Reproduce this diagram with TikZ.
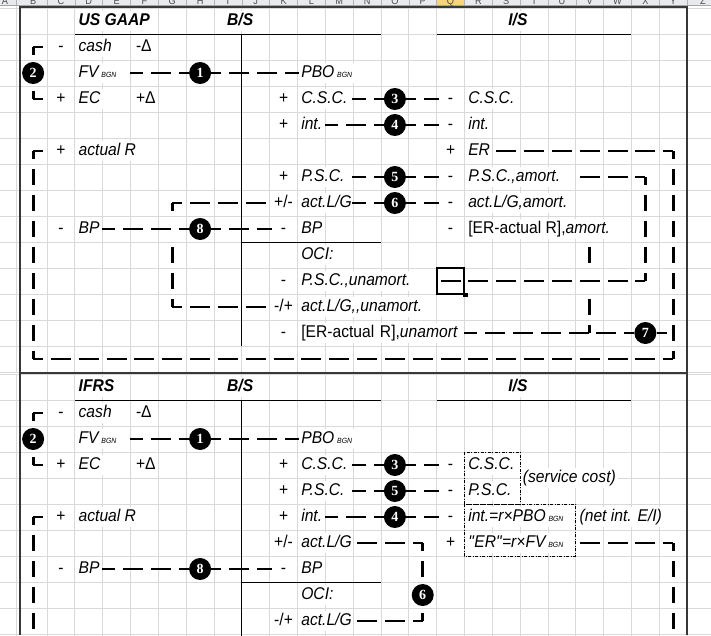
\documentclass[tikz,border=0pt]{standalone}
\usepackage{fontspec}
\setmainfont{Liberation Sans}[FakeStretch=0.92]
\newfontfamily\numfont{Liberation Serif}
\pgfdeclarelayer{back}
\pgfsetlayers{back,main}
\definecolor{gridgray}{HTML}{D9D9D9}
\definecolor{framegray}{HTML}{383838}
\definecolor{headgray}{HTML}{E8EAED}
\definecolor{headsel}{HTML}{F6D57E}
\newcommand{\bgn}{\,{\fontsize{7.5}{8}\selectfont BGN}}

\begin{document}
\begin{tikzpicture}[
    gridln/.style={draw=gridgray, line width=0.8pt},
    frame/.style={draw=framegray, line width=2pt},
    rule/.style={draw=black, line width=0.9pt},
    cell/.style={font=\fontsize{17}{19}\selectfont, inner ysep=2pt,
                 inner xsep=2.5pt, text height=12.2pt, text depth=3.6pt},
    txt/.style={cell, font=\fontsize{17}{19}\selectfont\itshape,
                anchor=west, fill=white},
    val/.style={cell, anchor=west, fill=white},
    hdr/.style={cell, font=\fontsize{17}{19}\selectfont\bfseries\itshape,
                fill=white},
    sgn/.style={cell, fill=white, inner xsep=1pt, minimum width=22pt},
    span/.code={\pgfmathsetlengthmacro\spanw{#1*27.83pt-7.2pt}%
                \tikzset{text width=\spanw, align=left}},
    num/.style={circle, fill=black, text=white, inner sep=0pt,
                minimum size=22pt,
                font=\numfont\bfseries\fontsize{14}{14}\selectfont},
    hl/.style={line width=2.8pt, dash pattern=on 20pt off 7.83pt,
               dash phase=10pt},
    vl/.style={line width=2.8pt, dash pattern=on 16pt off 10pt,
               dash phase=8pt},
    vlgap/.style={line width=2.8pt,
               dash pattern=on 8pt off 10pt on 16pt off 36pt on 16pt off 10pt},
    vlgapg/.style={line width=2.8pt,
               dash pattern=on 8pt off 10pt on 16pt off 10pt on 16pt off 36pt on 8pt off 10pt},
    dotbox/.style={draw, line width=0.8pt,
                   dash pattern=on 3pt off 1.5pt on 1pt off 1.5pt},
    selcell/.style={draw, line width=2pt, minimum width=27.83pt,
                    minimum height=26pt, inner sep=0pt},
    colhd/.style={font=\fontsize{10}{10}\selectfont, text=black!70,
                  anchor=base, inner sep=0pt}
]
\useasboundingbox (0pt,0pt) rectangle (711pt,-635pt);

% column heading strip
\fill[headgray] (0pt,0pt) rectangle (711pt,-5.5pt);
\fill[headsel] (436.6pt,0pt) rectangle (464.5pt,-5.5pt);
\foreach \c in {1,...,24}
  \draw[black!30, line width=0.6pt] ({19.2pt+\c*27.83pt},0pt) -- ++(0pt,-5.5pt);
\draw[black!30, line width=0.6pt] (16pt,0pt) -- (16pt,-5.5pt);
\draw[black!35, line width=0.6pt] (0pt,-5.5pt) -- (711pt,-5.5pt);
\node[colhd] (colA) at (5pt,-4.3pt) {A};
\foreach \l [count=\i from 0] in {B,C,D,E,F,G,H,I,J,K,L,M,N,O,P,Q,R,S,T,U,V,W,X,Y}
  \node[colhd] (col\l) at ({19.2pt+(\i+0.5)*27.83pt},-4.3pt) {\l};
\node[colhd] (colZ) at (703pt,-4.3pt) {Z};

% ---------------- US GAAP ----------------
\begin{scope}[shift={(19.2pt,-8pt)}, x=27.83pt, y=-26pt]
\begin{pgfonlayer}{back}
  \foreach \k in {0,...,14} \draw[gridln] (-1,\k) -- (26,\k);
  \foreach \c in {1,...,24} \draw[gridln] (\c,-0.3) -- (\c,14);
  \draw[gridln] (-0.115,-0.3) -- (-0.115,14);
\end{pgfonlayer}

\node[hdr, anchor=west] (ush) at (2.04,0.5) {US GAAP};
\node[hdr] (usbs) at (7.94,0.5) {B/S};
\node[hdr] (usis) at (17.92,0.5) {I/S};
\draw[rule] (2,1) -- (13,1);
\draw[rule] (15,1) -- (22,1);
\draw[rule] (8,1) -- (8,13);
\draw[rule] (8,9) -- (13,9);

% assets side
\node[sgn] (um1) at (1.5,1.5) {-};
\node[txt] (ucash) at (2.04,1.5) {cash};
\node[val] (ud1) at (4.1,1.5) {-Δ};
\node[num] (u2) at (0.5,2.5) {2};
\node[txt, span=2] (ufv) at (2.04,2.5) {FV\bgn};
\node[num] (u1) at (6.5,2.5) {1};
\node[sgn] (up3) at (1.5,3.5) {+};
\node[txt] (uec) at (2.04,3.5) {EC};
\node[val] (ud3) at (4.1,3.5) {+Δ};
\node[sgn] (up5) at (1.5,5.5) {+};
\node[txt] (uar) at (2.04,5.5) {actual R};
\node[sgn] (um8) at (1.5,8.5) {-};
\node[txt, span=1] (ubp) at (2.04,8.5) {BP};
\node[num] (u8) at (6.5,8.5) {8};

% liabilities side
\node[txt] (upbo) at (10.04,2.5) {PBO\bgn};
\node[sgn] (uk3) at (9.5,3.5) {+};
\node[txt, span=2] (ucsc) at (10.04,3.5) {C.S.C.};
\node[sgn] (uk4) at (9.5,4.5) {+};
\node[txt, span=1] (uint) at (10.04,4.5) {int.};
\node[sgn] (uk6) at (9.5,6.5) {+};
\node[txt, span=2] (upsc) at (10.04,6.5) {P.S.C.};
\node[sgn] (uk7) at (9.5,7.5) {+/-};
\node[txt, span=2] (ualg) at (10.04,7.5) {act.L/G};
\node[sgn] (uk8) at (9.5,8.5) {-};
\node[txt] (ubpr) at (10.04,8.5) {BP};
\node[txt] (uoci) at (10.04,9.5) {OCI:};
\node[sgn] (uk10) at (9.5,10.5) {-};
\node[txt] (upun) at (10.04,10.5) {P.S.C.,unamort.};
\node[sgn] (uk11) at (9.5,11.5) {-/+};
\node[txt] (ulun) at (10.04,11.5) {act.L/G,{},unamort.};
\node[sgn] (uk12) at (9.5,12.5) {-};
\node[txt, span=6] (ueun) at (10.04,12.5) {\textup{[ER-actual R],}unamort};

% income statement
\node[num] (u3) at (13.5,3.5) {3};
\node[num] (u4) at (13.5,4.5) {4};
\node[num] (u5) at (13.5,6.5) {5};
\node[num] (u6) at (13.5,7.5) {6};
\node[num] (u7) at (22.5,12.5) {7};
\node[sgn] (uq3) at (15.5,3.5) {-};
\node[txt] (ucscr) at (16.04,3.5) {C.S.C.};
\node[sgn] (uq4) at (15.5,4.5) {-};
\node[txt] (uintr) at (16.04,4.5) {int.};
\node[sgn] (uq5) at (15.5,5.5) {+};
\node[txt, span=1] (uer) at (16.04,5.5) {ER};
\node[sgn] (uq6) at (15.5,6.5) {-};
\node[txt, span=4] (upam) at (16.04,6.5) {P.S.C.,amort.};
\node[sgn] (uq7) at (15.5,7.5) {-};
\node[txt] (ulam) at (16.04,7.5) {act.L/G,amort.};
\node[sgn] (uq8) at (15.5,8.5) {-};
\node[txt] (ueam) at (16.04,8.5) {\textup{[ER-actual R],}amort.};
\node[selcell] (usel) at (15.5,10.5) {};
\node[fill=black, minimum size=4.5pt, inner sep=0pt] (uhandle) at (usel.south east) {};

% corners
\coordinate (ucB1) at (0.5,1.5);
\coordinate (ucB3) at (0.5,3.5);
\coordinate (ucB5) at (0.5,5.5);
\coordinate (ucB13) at (0.5,13.5);
\coordinate (ucG7) at (5.5,7.5);
\coordinate (ucG11) at (5.5,11.5);
\coordinate (ucV12) at (20.5,12.5);
\coordinate (ucX6) at (22.5,6.5);
\coordinate (ucX10) at (22.5,10.5);
\coordinate (ucY5) at (23.5,5.5);
\coordinate (ucY12) at (23.5,12.5);
\coordinate (ucY13) at (23.5,13.5);

\begin{pgfonlayer}{back}
  \draw[hl] (ucB1) -- (um1.west);
  \draw[vl] (ucB1) -- (u2);
  \draw[hl] (ucB3) -- (up3.west);
  \draw[vl] (ucB3) -- (u2);
  \draw[hl] (u1) -- (ufv.east);
  \draw[hl] (u1) -- (upbo.west);
  \draw[hl] (u3) -- (ucsc.east);
  \draw[hl] (u3) -- (uq3.west);
  \draw[hl] (u4) -- (uint.east);
  \draw[hl] (u4) -- (uq4.west);
  \draw[hl] (u5) -- (upsc.east);
  \draw[hl] (u5) -- (uq6.west);
  \draw[hl] (u6) -- (ualg.east);
  \draw[hl] (u6) -- (uq7.west);
  \draw[hl] (u8) -- (ubp.east);
  \draw[hl] (u8) -- (uk8.west);
  \draw[hl] (ucG7) -- (uk7.west);
  \draw[hl] (ucG11) -- (uk11.west);
  \draw[vlgapg] (ucG11) -- (ucG7);
  \draw[hl] (ucB5) -- (up5.west);
  \draw[vl] (ucB5) -- (ucB13);
  \draw[hl] (ucB13) -- (ucY13);
  \draw[vl] (ucY13) -- (ucY5);
  \draw[hl] (ucY5) -- (uer.east);
  \draw[hl] (ucX6) -- (upam.east);
  \draw[vl] (ucX6) -- (ucX10);
  \draw[hl] (ucX10) -- (usel.west);
  \draw[hl] (u7) -- (ueun.east);
  \draw[hl] (u7) -- (ucY12);
  \draw[vlgap] (ucV12) -- (ucV12 |- ueam.south);
\end{pgfonlayer}
\end{scope}

% ---------------- IFRS ----------------
\begin{scope}[shift={(19.2pt,-374pt)}, x=27.83pt, y=-26pt]
\begin{pgfonlayer}{back}
  \foreach \k in {0,...,10} \draw[gridln] (-1,\k) -- (26,\k);
  \foreach \c in {1,...,24} \draw[gridln] (\c,0) -- (\c,11);
  \draw[gridln] (-0.115,0) -- (-0.115,11);
\end{pgfonlayer}

\node[hdr, anchor=west] (ifh) at (2.04,0.5) {IFRS};
\node[hdr] (ifbs) at (7.94,0.5) {B/S};
\node[hdr] (ifis) at (17.92,0.5) {I/S};
\draw[rule] (2,1) -- (13,1);
\draw[rule] (15,1) -- (22,1);
\draw[rule] (8,1) -- (8,11);
\draw[rule] (8,8) -- (13,8);

% assets side
\node[sgn] (fm1) at (1.5,1.5) {-};
\node[txt] (fcash) at (2.04,1.5) {cash};
\node[val] (fd1) at (4.1,1.5) {-Δ};
\node[num] (f2) at (0.5,2.5) {2};
\node[txt, span=2] (ffv) at (2.04,2.5) {FV\bgn};
\node[num] (f1) at (6.5,2.5) {1};
\node[sgn] (fp3) at (1.5,3.5) {+};
\node[txt] (fec) at (2.04,3.5) {EC};
\node[val] (fd3) at (4.1,3.5) {+Δ};
\node[sgn] (fp5) at (1.5,5.5) {+};
\node[txt] (far) at (2.04,5.5) {actual R};
\node[sgn] (fm7) at (1.5,7.5) {-};
\node[txt, span=1] (fbp) at (2.04,7.5) {BP};
\node[num] (f8) at (6.5,7.5) {8};

% liabilities side
\node[txt] (fpbo) at (10.04,2.5) {PBO\bgn};
\node[sgn] (fk3) at (9.5,3.5) {+};
\node[txt, span=2] (fcsc) at (10.04,3.5) {C.S.C.};
\node[sgn] (fk4) at (9.5,4.5) {+};
\node[txt, span=2] (fpsc) at (10.04,4.5) {P.S.C.};
\node[sgn] (fk5) at (9.5,5.5) {+};
\node[txt, span=1] (fint) at (10.04,5.5) {int.};
\node[sgn] (fk6) at (9.5,6.5) {+/-};
\node[txt, span=2] (falg) at (10.04,6.5) {act.L/G};
\node[sgn] (fk7) at (9.5,7.5) {-};
\node[txt] (fbpr) at (10.04,7.5) {BP};
\node[txt] (foci) at (10.04,8.5) {OCI:};
\node[sgn] (fk9) at (9.5,9.5) {-/+};
\node[txt, span=2] (falg2) at (10.04,9.5) {act.L/G};

% income statement
\node[num] (f3) at (13.5,3.5) {3};
\node[num] (f5) at (13.5,4.5) {5};
\node[num] (f4) at (13.5,5.5) {4};
\node[num] (f6) at (14.5,8.5) {6};
\node[sgn] (fq3) at (15.5,3.5) {-};
\node[txt] (fcscr) at (16.04,3.5) {C.S.C.};
\node[sgn] (fq4) at (15.5,4.5) {-};
\node[txt] (fpscr) at (16.04,4.5) {P.S.C.};
\node[txt] (fsc) at (18.0,4) {(service cost)};
\node[sgn] (fq5) at (15.5,5.5) {-};
\node[txt] (fintr) at (16.04,5.5) {int.=r×PBO\bgn};
\node[txt] (fnet) at (20.04,5.5) {(net int. E/I)};
\node[sgn] (fq6) at (15.5,6.5) {+};
\node[txt, span=4] (fer) at (16.04,6.5) {\textquotedbl ER\textquotedbl=r×FV\bgn};
\draw[dotbox] (16,3) rectangle (18,5);
\draw[dotbox] (16,5) rectangle (20,7);

% corners
\coordinate (fcB1) at (0.5,1.5);
\coordinate (fcB3) at (0.5,3.5);
\coordinate (fcB5) at (0.5,5.5);
\coordinate (fcBend) at (0.5,10.5);
\coordinate (fcP6) at (14.5,6.5);
\coordinate (fcP9) at (14.5,9.5);
\coordinate (fcY6) at (23.5,6.5);
\coordinate (fcYend) at (23.5,10.5);

\begin{pgfonlayer}{back}
  \draw[hl] (fcB1) -- (fm1.west);
  \draw[vl] (fcB1) -- (f2);
  \draw[hl] (fcB3) -- (fp3.west);
  \draw[vl] (fcB3) -- (f2);
  \draw[hl] (f1) -- (ffv.east);
  \draw[hl] (f1) -- (fpbo.west);
  \draw[hl] (f3) -- (fcsc.east);
  \draw[hl] (f3) -- (fq3.west);
  \draw[hl] (f5) -- (fpsc.east);
  \draw[hl] (f5) -- (fq4.west);
  \draw[hl] (f4) -- (fint.east);
  \draw[hl] (f4) -- (fq5.west);
  \draw[hl] (f8) -- (fbp.east);
  \draw[hl] (f8) -- (fk7.west);
  \draw[hl] (fcP6) -- (falg.east);
  \draw[vl] (fcP6) -- (f6);
  \draw[vl] (fcP9) -- (f6);
  \draw[hl] (fcP9) -- (falg2.east);
  \draw[hl] (fcY6) -- (fer.east);
  \draw[vl] (fcY6) -- (fcYend);
  \draw[hl] (fcB5) -- (fp5.west);
  \draw[vl] (fcB5) -- (fcBend);
\end{pgfonlayer}
\end{scope}

% sheet frames
\draw[frame] (19.5pt,-635pt) -- (19.5pt,-7pt) -- (687pt,-7pt) -- (687pt,-635pt);
\draw[frame] (19.5pt,-373pt) -- (687pt,-373pt);
\end{tikzpicture}
\end{document}
